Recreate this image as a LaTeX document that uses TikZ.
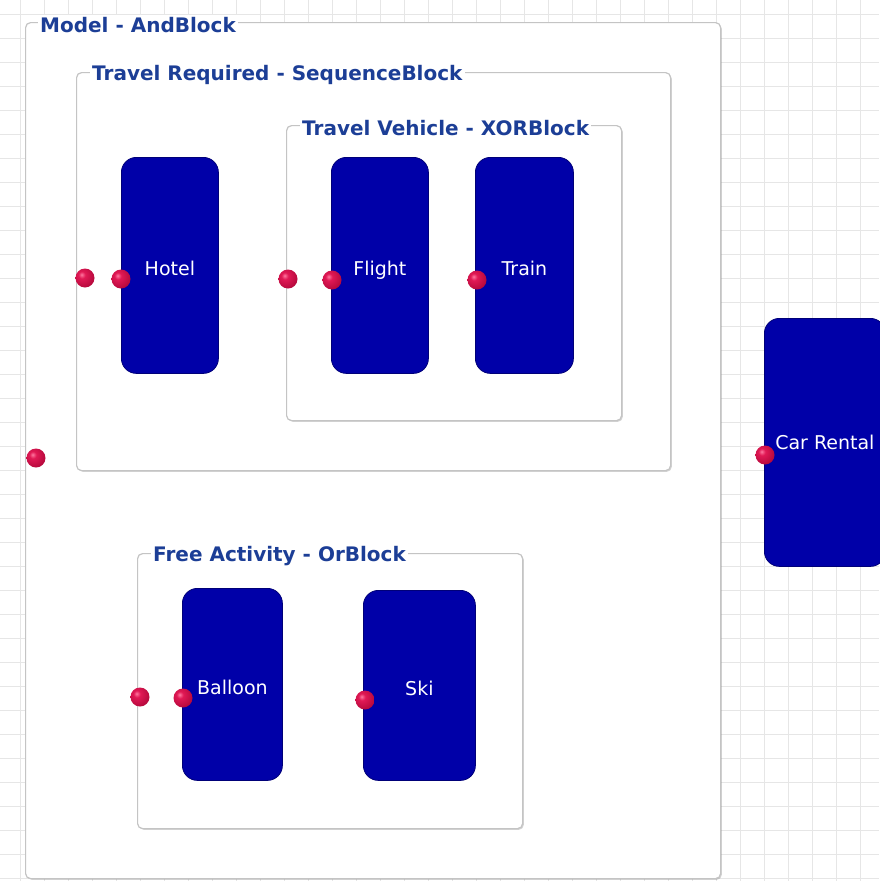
\documentclass[tikz,border=0pt]{standalone}
\usepackage{fontspec}
\setmainfont{DejaVu Sans}
\usetikzlibrary{shadows}
\definecolor{gridgray}{RGB}{230,230,230}
\definecolor{framegray}{RGB}{196,196,196}
\definecolor{titleblue}{RGB}{28,62,150}
\definecolor{blockblue}{RGB}{0,0,168}
\definecolor{blockedge}{RGB}{0,0,120}
\definecolor{portlight}{RGB}{255,120,160}
\definecolor{portmid}{RGB}{225,25,85}
\definecolor{portdeep}{RGB}{185,10,62}
\definecolor{portdark}{RGB}{130,0,40}
% glossy red sphere used for the entry ports
\pgfdeclareradialshading{portball}{\pgfpoint{-9bp}{9bp}}{%
  color(0bp)=(portlight); color(9bp)=(portmid); color(30bp)=(portdeep);
  color(55bp)=(portdark); color(100bp)=(portdark)}
\begin{document}
\begin{tikzpicture}[x=1pt,y=-1pt,
  gridline/.style={draw=gridgray,line width=0.8pt},
  frame/.style={draw=framegray,fill=white,rounded corners=5pt,line width=1.2pt,
    anchor=north west,inner sep=0pt,
    drop shadow={shadow xshift=1.2pt,shadow yshift=-1.2pt,opacity=0.35,fill=gray}},
  frametitle/.style={anchor=west,fill=white,inner sep=2pt,text=titleblue,
    font=\bfseries\fontsize{20}{20}\selectfont,yshift=-3pt},
  activity/.style={draw=blockedge,fill=blockblue,rounded corners=15pt,line width=0.8pt,
    anchor=north west,inner sep=0pt,text=white,font=\fontsize{19}{19}\selectfont},
  actlabel/.style={text=white,font=\fontsize{19}{19}\selectfont,inner sep=0pt,
    text height=14pt,text depth=0pt,yshift=-3pt},
  port/.style={circle,inner sep=0pt,minimum size=19pt,shading=portball}]

\useasboundingbox (0,0) rectangle (879,881);
\fill[white] (0,0) rectangle (879,881);

% background grid
\foreach \x in {20,44,...,884} \draw[gridline] (\x,0) -- (\x,881);
\foreach \y in {14,38,...,886} \draw[gridline] (0,\y) -- (879,\y);

% composite blocks
\node[frame,minimum width=695pt,minimum height=856pt] (model) at (25,22) {};
\node[frametitle] (modelT) at ([xshift=13pt]model.north west) {Model - AndBlock};

\node[frame,minimum width=594pt,minimum height=398pt] (travel) at (76,72) {};
\node[frametitle] (travelT) at ([xshift=14pt]travel.north west) {Travel Required - SequenceBlock};

\node[frame,minimum width=335pt,minimum height=295pt] (vehicle) at (286,125) {};
\node[frametitle] (vehicleT) at ([xshift=14pt]vehicle.north west) {Travel Vehicle - XORBlock};

\node[frame,minimum width=385pt,minimum height=275pt] (free) at (137,553) {};
\node[frametitle] (freeT) at ([xshift=14pt]free.north west) {Free Activity - OrBlock};

% activities
\node[activity,minimum width=97pt,minimum height=216pt] (hotel) at (121,157) {};
\node[activity,minimum width=97pt,minimum height=216pt] (flight) at (331,157) {};
\node[activity,minimum width=98pt,minimum height=216pt] (train) at (475,157) {};
\node[activity,minimum width=121pt,minimum height=248pt] (car) at (764,318) {};
\node[activity,minimum width=100pt,minimum height=192pt] (balloon) at (182,588) {};
\node[activity,minimum width=112pt,minimum height=190pt] (ski) at (363,590) {};

% activity names
\node[actlabel] (hotelL) at (hotel.center) {Hotel};
\node[actlabel] (flightL) at (flight.center) {Flight};
\node[actlabel] (trainL) at (train.center) {Train};
\node[actlabel,yshift=3pt] (carL) at (car.center) {Car Rental};
\node[actlabel] (balloonL) at (balloon.center) {Balloon};
\node[actlabel] (skiL) at (ski.center) {Ski};

% entry ports
\node[port] (pModel) at (36,458) {};
\node[port] (pTravel) at (85,278) {};
\node[port] (pHotel) at (121,279) {};
\node[port] (pVehicle) at (288,279) {};
\node[port] (pFlight) at (332,280) {};
\node[port] (pTrain) at (477,280) {};
\node[port] (pCar) at (765,455) {};
\node[port] (pFree) at (140,697) {};
\node[port] (pBalloon) at (183,698) {};
\node[port] (pSki) at (365,700) {};
\end{tikzpicture}
\end{document}
